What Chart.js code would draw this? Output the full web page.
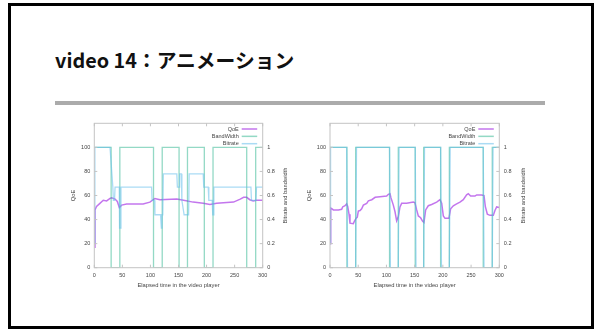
<!DOCTYPE html>
<html>
<head>
<meta charset="utf-8">
<script src="https://cdn.jsdelivr.net/npm/chart.js@4"></script>
<style>
  html, body { margin: 0; padding: 0; background: #fff; width: 601px; height: 330px; overflow: hidden; }
  .frame { position: absolute; left: 8px; top: 3px; width: 580px; height: 320px; border: 3px solid #000; }
  .title { position: absolute; left: 55px; top: 45px; margin: 0; font: bold 19.8px "Noto Sans CJK JP"; color: #111; white-space: nowrap; }
  .rule { position: absolute; left: 55px; top: 101px; width: 490px; height: 4px; background: #ababab; }
  canvas { position: absolute; top: 115px; filter: blur(0.3px); }
  #left { left: 60px; }
  #right { left: 300px; }
</style>
</head>
<body>
<div class="frame"></div>
<h1 class="title">video 14：アニメーション</h1>
<div class="rule"></div>
<canvas id="left" width="240" height="180"></canvas>
<canvas id="right" width="240" height="180"></canvas>
<script>
// Elapsed-time ticks and axis ticks
const xTicks = [0, 50, 100, 150, 200, 250, 300];
const qoeTicks = [0, 20, 40, 60, 80, 100];
const rateTicks = [0, 0.2, 0.4, 0.6, 0.8, 1];

// Bandwidth schedule (normalised 0..1), shared by both sessions
const bandwidthTime = [0, 30, 30, 45.5, 45.5, 105.5, 105.5, 121, 121, 151, 151, 166, 166, 196, 196, 211.5, 211.5, 271.5, 271.5, 287.5, 287.5, 300];
const bandwidthValue = [1, 1, 0, 0, 1, 1, 0, 0, 1, 1, 0, 0, 1, 1, 0, 0, 1, 1, 0, 0, 1, 1];

// Session A: QoE and selected bitrate
const qoeTimeA = [0, 1.2, 4, 10, 16, 22, 28, 31, 37, 41, 44.6, 48.7, 57.6, 87, 99, 108, 117, 147, 159, 176, 194, 206, 218, 248, 260, 266, 271.5, 277, 283, 289, 300];
const qoeValueA = [17, 48, 51, 53.5, 56, 55.5, 57.5, 58, 57, 55, 50, 52, 53, 53, 54.5, 57.5, 56.5, 57, 56, 54.5, 53.5, 52.5, 53.5, 54.5, 57, 58.5, 58.5, 56.5, 55.5, 56, 56];
const bitrateTimeA = [0, 1, 28, 33, 34, 36, 37, 44.5, 45, 46, 47.5, 102, 103, 107, 108, 118, 119.5, 120.5, 122, 123, 147, 148, 151, 152, 155, 156, 160, 166, 168, 169, 194, 195, 203, 204, 210, 211, 212, 213, 279, 280, 288, 289, 300];
const bitrateValueA = [0.2, 1, 1, 0.67, 0.56, 0.56, 0.67, 0.67, 0.33, 0.33, 0.67, 0.67, 0.56, 0.56, 0.44, 0.44, 0.33, 0.44, 0.44, 0.78, 0.78, 0.67, 0.67, 0.78, 0.78, 0.56, 0.44, 0.44, 0.44, 0.78, 0.78, 0.67, 0.67, 0.56, 0.56, 0.44, 0.44, 0.67, 0.67, 0.56, 0.56, 0.67, 0.67];

// Session B: QoE and selected bitrate
const qoeTimeB = [0, 1.2, 3, 6, 15, 20.7, 22.4, 26.6, 29.5, 31.3, 33.7, 35.4, 41.3, 43.1, 46.1, 48.4, 50.2, 53.2, 56.1, 59.1, 65, 68, 74, 80, 88.6, 100.4, 103.4, 106.3, 108.1, 112.2, 115.2, 118.1, 121.1, 124, 127, 135.8, 147.7, 150.6, 153.6, 156.5, 160.6, 164.2, 166.5, 169.5, 174.2, 180.1, 189, 194.9, 197.9, 200.8, 203.8, 210.8, 213.8, 218.5, 224.4, 230.3, 236.2, 242.1, 245.1, 249.2, 256.9, 259.9, 268.7, 272.9, 275.2, 278.8, 283.5, 289.4, 292.3, 295.3, 300];
const qoeValueB = [20, 49.5, 49, 48, 48, 48.5, 50.5, 51.5, 53, 51, 44.5, 37, 36.5, 38.5, 41, 42, 47, 47.5, 49, 52, 53.5, 55.5, 56.5, 58.5, 59, 59.5, 61, 61.5, 58, 52, 46.5, 39, 42.5, 50.5, 53.5, 53.5, 54.5, 54, 48, 43, 41.5, 38.5, 37.5, 48, 51.5, 52.5, 54.5, 56.5, 53.5, 43, 41, 41, 49, 51.5, 53, 54.5, 56.5, 60.5, 61.5, 59.5, 59.5, 60.5, 60.5, 60, 51, 44.5, 43.5, 43.5, 47.5, 50.5, 50];
const bitrateTimeB = [0, 1, 29.5, 31, 45.5, 47, 105.5, 107, 121, 122.5, 151, 152.5, 166, 167.5, 196, 197.5, 211.5, 213, 271.5, 273, 287.5, 289, 300];
const bitrateValueB = [0.2, 1, 1, 0, 0, 1, 1, 0, 0, 1, 1, 0, 0, 1, 1, 0, 0, 1, 1, 0, 0, 1, 1];

const COLORS = { qoe: 'rgba(170, 60, 230, 0.7)', bw: 'rgba(40, 180, 140, 0.5)', rate: 'rgba(100, 190, 235, 0.55)' };
const FONT = 'Liberation Sans';
const INK = '#444';
const FRAME = '#c4c4c4';

function zip(t, v) { return t.map((x, i) => ({ x: x, y: v[i] })); }

// gnuplot-like frame: border, inward mirrored ticks, legend and y2 label
const gnuFrame = {
  id: 'gnuFrame',
  afterDatasetsDraw(chart, args, opts) {
    const { ctx, chartArea: a, scales } = chart;
    ctx.save();
    ctx.strokeStyle = FRAME;
    ctx.lineWidth = 1;
    ctx.strokeRect(a.left, a.top, a.right - a.left, a.bottom - a.top);
    const L = 3;
    ctx.beginPath();
    xTicks.forEach(v => {
      const p = scales.x.getPixelForValue(v);
      ctx.moveTo(p, a.bottom); ctx.lineTo(p, a.bottom - L);
      ctx.moveTo(p, a.top); ctx.lineTo(p, a.top + L);
    });
    qoeTicks.forEach(v => {
      const p = scales.y.getPixelForValue(v);
      ctx.moveTo(a.left, p); ctx.lineTo(a.left + L, p);
    });
    rateTicks.forEach(v => {
      const p = scales.y2.getPixelForValue(v);
      ctx.moveTo(a.right, p); ctx.lineTo(a.right - L, p);
    });
    ctx.stroke();

    // legend, top right inside the plot
    ctx.font = '5.5px "' + FONT + '"';
    ctx.textAlign = 'right';
    ctx.textBaseline = 'middle';
    chart.data.datasets.forEach((ds, i) => {
      const y = a.top + 5.7 + i * 7.35;
      ctx.fillStyle = INK;
      ctx.fillText(ds.label, a.right - 24, y);
      ctx.strokeStyle = ds.borderColor;
      ctx.lineWidth = 1.5;
      ctx.beginPath();
      ctx.moveTo(a.right - 21, y); ctx.lineTo(a.right - 5.5, y);
      ctx.stroke();
    });

    // right axis title, reading bottom to top
    ctx.fillStyle = INK;
    ctx.font = '5.8px "' + FONT + '"';
    ctx.textAlign = 'center';
    ctx.translate(opts.y2TitleX, (a.top + a.bottom) / 2);
    ctx.rotate(-Math.PI / 2);
    ctx.fillText('Bitrate and bandwidth', 0, 0);
    ctx.restore();
  }
};

const noGrid = { display: false, drawTicks: false, tickLength: 0 };

function makeChart(id, qoe, bitrate, dims) {
  return new Chart(document.getElementById(id), {
    type: 'line',
    data: {
      datasets: [
        { label: 'QoE', data: qoe, yAxisID: 'y', borderColor: COLORS.qoe, borderWidth: 1.5, order: 3 },
        { label: 'BandWidth', data: zip(bandwidthTime, bandwidthValue), yAxisID: 'y2', borderColor: COLORS.bw, borderWidth: 1.3, order: 2 },
        { label: 'Bitrate', data: bitrate, yAxisID: 'y2', borderColor: COLORS.rate, borderWidth: 1.3, order: 1 }
      ]
    },
    options: {
      responsive: false,
      animation: false,
      events: [],
      parsing: false,
      elements: { point: { radius: 0 }, line: { tension: 0, fill: false } },
      layout: { padding: { top: 8.3, left: 0, right: 0, bottom: 0 } },
      plugins: { legend: { display: false }, tooltip: { enabled: false }, gnuFrame: { y2TitleX: dims.y2TitleX } },
      scales: {
        x: {
          type: 'linear', min: 0, max: 300,
          afterBuildTicks: s => { s.ticks = xTicks.map(v => ({ value: v })); },
          afterFit: s => { s.height = 27.3; },
          ticks: { font: { family: FONT, size: 5.5 }, color: INK, padding: 4, maxRotation: 0, autoSkip: false },
          grid: noGrid, border: { display: false },
          title: { display: true, text: 'Elapsed time in the video player', font: { family: FONT, size: 5.8 }, color: INK, padding: { top: 0, bottom: 5.8 } }
        },
        y: {
          position: 'left', min: 0, max: 120,
          afterBuildTicks: s => { s.ticks = qoeTicks.map(v => ({ value: v })); },
          afterFit: s => { s.width = dims.yWidth; },
          ticks: { font: { family: FONT, size: 5.5 }, color: INK, padding: 4 },
          grid: noGrid, border: { display: false },
          title: { display: true, text: 'QoE', font: { family: FONT, size: 5.8 }, color: INK, padding: { top: dims.yTitlePad, bottom: 0 } }
        },
        y2: {
          position: 'right', min: 0, max: 1.2,
          afterBuildTicks: s => { s.ticks = rateTicks.map(v => ({ value: v })); },
          afterFit: s => { s.width = dims.y2Width; },
          ticks: { font: { family: FONT, size: 5.5 }, color: INK, padding: 4.5, callback: v => String(Math.round(v * 10) / 10) },
          grid: noGrid, border: { display: false }
        }
      }
    },
    plugins: [gnuFrame]
  });
}

makeChart('left', zip(qoeTimeA, qoeValueA), zip(bitrateTimeA, bitrateValueA), { yWidth: 34.3, y2Width: 37.3, yTitlePad: 9.5, y2TitleX: 225 });
makeChart('right', zip(qoeTimeB, qoeValueB), zip(bitrateTimeB, bitrateValueB), { yWidth: 30, y2Width: 40.7, yTitlePad: 5.5, y2TitleX: 223 });
</script>
</body>
</html>
